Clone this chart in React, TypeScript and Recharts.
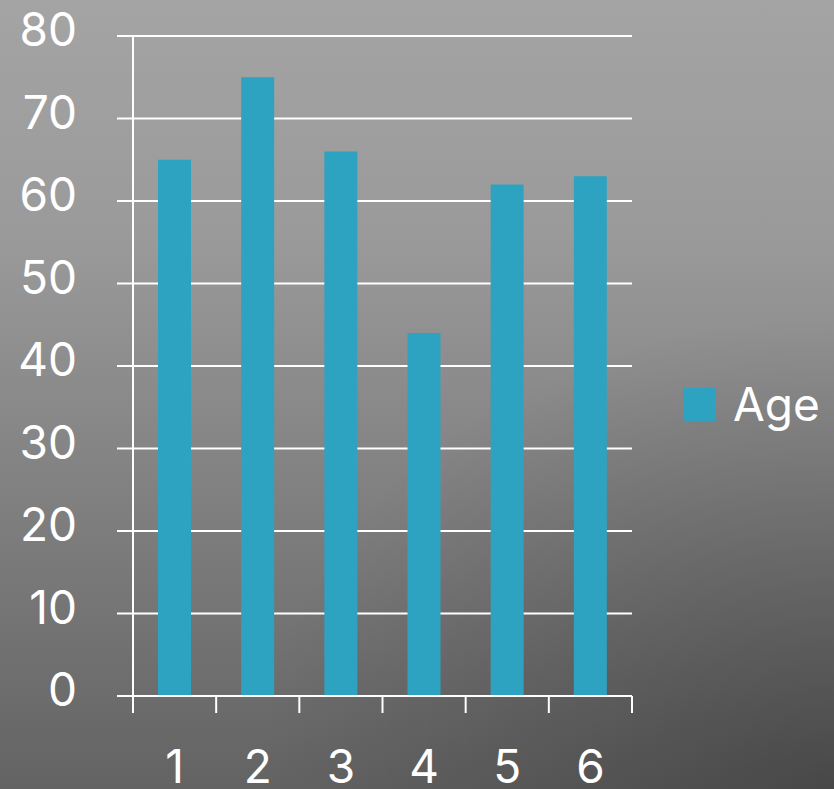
import { BarChart, Bar, XAxis, YAxis, CartesianGrid, Legend } from "recharts";

const categories = ["1", "2", "3", "4", "5", "6"];
const ages = [65, 75, 66, 44, 62, 63];
const yTicks = [0, 10, 20, 30, 40, 50, 60, 70, 80];

const data = categories.map((name, i) => ({ name, age: ages[i] }));

const FONT = "Inter, 'DejaVu Sans', sans-serif";
const BAR = "#2da3c1";
const LINE = "#ffffff";

function YTick({ x, y, payload }: any) {
  return (
    <text x={x} y={y + 10} textAnchor="end" fill="#fff" fontSize={46} fontFamily={FONT}>
      {payload.value}
    </text>
  );
}

// category label plus tick marks on the band edges
function XTick({ x, y, payload, index, visibleTicksCount }: any) {
  const half = payload.offset ?? 41.6;
  const left = x - half;
  const right = x + half;
  return (
    <g>
      <line x1={left} x2={left} y1={y} y2={y + 17} stroke={LINE} strokeWidth={2} />
      {index === visibleTicksCount - 1 && (
        <line x1={right} x2={right} y1={y} y2={y + 17} stroke={LINE} strokeWidth={2} />
      )}
      <text x={x} y={y + 87} textAnchor="middle" fill="#fff" fontSize={46} fontFamily={FONT}>
        {payload.value}
      </text>
    </g>
  );
}

function AgeLegend() {
  return (
    <div style={{ display: "flex", alignItems: "center", fontFamily: FONT }}>
      <div style={{ width: 33, height: 33, background: BAR, marginRight: 17 }} />
      <span style={{ color: "#fff", fontSize: 46, lineHeight: "40px" }}>Age</span>
    </div>
  );
}

export default function App() {
  return (
    <div
      style={{
        position: "absolute",
        top: 0,
        left: 0,
        width: 834,
        height: 789,
        background:
          "radial-gradient(ellipse 70% 60% at 100% 100%, rgba(0,0,0,0.28) 0%, rgba(0,0,0,0) 100%), linear-gradient(180deg, #a4a4a4 0%, #9a9a9a 30%, #636363 100%)",
      }}
    >
      <BarChart
        width={834}
        height={789}
        data={data}
        margin={{ top: 36, right: 202, bottom: 0, left: 0 }}
        barCategoryGap={0}
      >
        <CartesianGrid vertical={false} stroke={LINE} strokeWidth={2} />
        <XAxis
          dataKey="name"
          height={93}
          axisLine={{ stroke: LINE, strokeWidth: 2 }}
          tickLine={false}
          tickSize={0}
          tickMargin={0}
          tick={<XTick />}
          interval={0}
        />
        <YAxis
          width={133}
          domain={[0, 80]}
          ticks={yTicks}
          interval={0}
          tickSize={16}
          tickMargin={40}
          tick={<YTick />}
          tickLine={{ stroke: LINE, strokeWidth: 2 }}
          axisLine={{ stroke: LINE, strokeWidth: 2 }}
        />
        <Legend
          layout="horizontal"
          verticalAlign="middle"
          align="center"
          content={<AgeLegend />}
          wrapperStyle={{ left: 683, top: 384, width: 150 }}
        />
        <Bar dataKey="age" name="Age" fill={BAR} barSize={33} isAnimationActive={false} />
      </BarChart>
    </div>
  );
}
